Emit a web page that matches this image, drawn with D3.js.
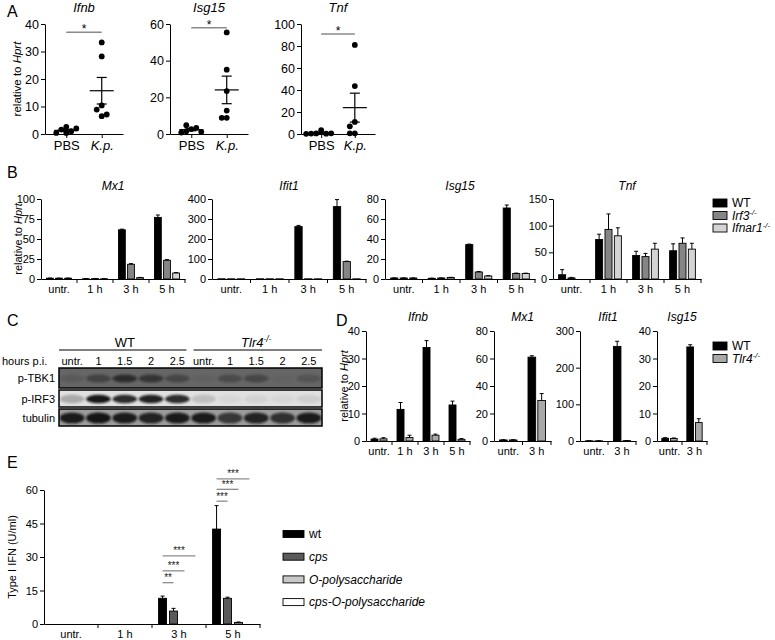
<!DOCTYPE html>
<html>
<head>
<meta charset="utf-8">
<script src="https://cdn.jsdelivr.net/npm/d3@7"></script>
<style>
  body { margin: 0; background: #fff; }
  svg { font-family: "Liberation Sans", Arial, sans-serif; }
</style>
</head>
<body>
<script>
// ---------- panel A ----------
const aGroups = ["PBS", "K.p."];
const aGenes = ["Ifnb", "Isg15", "Tnf"];
const aMax = [40, 60, 100];
const aTicks = [[0, 10, 20, 30, 40], [0, 20, 40, 60], [0, 20, 40, 60, 80, 100]];
const ifnbPBS = [2.6, 1.6, 1.0, 0.4, 0.4, 2.0];
const ifnbKp = [33.3, 28.2, 10.4, 8.9, 6.5, 7.1];
const isg15PBS = [2.7, 4.8, 1.5, 3.3, 0.8, 1.2];
const isg15Kp = [55.4, 35.1, 23.4, 12.8, 8.8, 8.8];
const tnfPBS = [3.4, 0.5, 0.3, 0.4, 0.6, 0.2];
const tnfKp = [81, 43.6, 11, 7, 0.6, 0.6];
const aSigLevel = [37, 58, 91];

// ---------- panel B ----------
const bGroups = ["untr.", "1 h", "3 h", "5 h"];
const bSeries = ["WT", "Irf3", "Ifnar1"];
const bGenes = ["Mx1", "Ifit1", "Isg15", "Tnf"];
const bMax = [100, 400, 80, 150];
const bTicks = [[0, 25, 50, 75, 100], [0, 100, 200, 300, 400], [0, 20, 40, 60, 80], [0, 50, 100, 150]];
const bMx1 = [[1.0, 0.3, 61.5, 77], [1.0, 0.5, 18.4, 23.4], [1.0, 0.3, 1.7, 7.5]];
const bMx1Err = [[0.2, 0.1, 0.8, 3], [0.1, 0.1, 0.8, 0.8], [0.1, 0.1, 0.3, 0.5]];
const bIfit1 = [[1, 1, 262, 362], [1, 1, 1, 87], [1, 1, 1, 1]];
const bIfit1Err = [[0, 0, 6, 35], [0, 0, 0, 2], [0, 0, 0, 0]];
const bIsg15 = [[1.0, 0.7, 34.4, 71], [1.0, 1.0, 7, 5.5], [1.0, 1.5, 3, 5.5]];
const bIsg15Err = [[0.1, 0.1, 0.5, 3], [0.1, 0.1, 0.5, 0.4], [0.1, 0.2, 0.3, 0.3]];
const bTnf = [[8, 74, 44, 53], [2, 93, 42, 67], [0, 81, 56, 56]];
const bTnfErr = [[9.5, 10, 8, 13], [1, 29, 6, 10], [0, 15, 11, 11]];

// ---------- panel C ----------
const cLanes = ["untr.", "1", "1.5", "2", "2.5", "untr.", "1", "1.5", "2", "2.5"];
const cRows = ["p-TBK1", "p-IRF3", "tubulin"];
const tbk1Band = [0.12, 0.4, 0.65, 0.55, 0.35, 0.05, 0.3, 0.35, 0.03, 0.2];
const irf3Band = [0.25, 0.95, 0.85, 0.9, 0.85, 0.15, 0.04, 0.06, 0.04, 0.08];
const tubulinBand = [0.9, 0.95, 0.9, 0.85, 0.9, 0.9, 0.7, 0.85, 0.75, 0.9];

// ---------- panel D ----------
const dSeries = ["WT", "Tlr4"];
const dGenes = ["Ifnb", "Mx1", "Ifit1", "Isg15"];
const dGroupsIfnb = ["untr.", "1 h", "3 h", "5 h"];
const dGroupsOther = ["untr.", "3 h"];
const dMax = [40, 80, 300, 40];
const dTicks = [[0, 10, 20, 30, 40], [0, 20, 40, 60, 80], [0, 100, 200, 300], [0, 10, 20, 30, 40]];
const dIfnb = [[0.7, 11.5, 34, 13.1], [0.8, 1.25, 2.1, 0.6]];
const dIfnbErr = [[0.3, 2.5, 2.5, 1.4], [0.4, 0.85, 0.4, 0.3]];
const dMx1 = [[0.75, 61], [0.75, 29.5]];
const dMx1Err = [[0.2, 1], [0.2, 5]];
const dIfit1 = [[0.5, 258], [0.5, 1]];
const dIfit1Err = [[0.2, 14], [0.2, 0.3]];
const dIsg15 = [[1, 34.2], [0.9, 6.7]];
const dIsg15Err = [[0.2, 0.8], [0.2, 1.4]];

// ---------- panel E ----------
const eGroups = ["untr.", "1 h", "3 h", "5 h"];
const eSeries = ["wt", "cps", "O-polysaccharide", "cps-O-polysaccharide"];
const eValues = [[0, 0, 11.5, 42.5], [0, 0, 5.8, 11.5], [0, 0, 0, 0.7], [0, 0, 0, 0]];
const eErr = [[0, 0, 1, 10.5], [0, 0, 1.2, 0.5], [0, 0, 0, 0.2], [0, 0, 0, 0]];
const eTicks = [0, 15, 30, 45, 60];
const eSig = [
  { group: "3 h", target: 1, level: 18.5, label: "**" },
  { group: "3 h", target: 2, level: 23.8, label: "***" },
  { group: "3 h", target: 3, level: 30.5, label: "***" },
  { group: "5 h", target: 1, level: 55, label: "***" },
  { group: "5 h", target: 2, level: 60.3, label: "***" },
  { group: "5 h", target: 3, level: 65, label: "***" }
];

const svg = d3.select("body").append("svg")
  .attr("width", 775)
  .attr("height", 640);

function letter(t, x, y) {
  svg.append("text").attr("x", x).attr("y", y).attr("font-size", 16).text(t);
}

// text with italic gene name and optional -/- superscript
function geneText(sel, name, ko, fs) {
  sel.append("tspan").attr("font-style", "italic").text(name);
  if (ko) sel.append("tspan").attr("font-style", "italic").attr("font-size", fs * 0.65)
    .attr("dy", -fs * 0.4).text("-/-");
}

function yLabel(x, y, fs) {
  const t = svg.append("text")
    .attr("transform", "translate(" + x + "," + y + ") rotate(-90)")
    .attr("text-anchor", "middle")
    .attr("font-size", fs);
  t.append("tspan").text("relative to ");
  t.append("tspan").attr("font-style", "italic").text("Hprt");
}

function styleAxis(a, fs) {
  a.attr("font-family", null).attr("font-size", fs);
  a.selectAll("path, line").attr("stroke", "#000").attr("stroke-width", 1);
}

// ---------- bar chart helper ----------
function drawBars(o) {
  const g = svg.append("g");
  const n = o.groups.length;
  const x = d3.scaleBand().domain(o.groups).range([o.x0, o.x0 + o.gw * n]);
  const xs = d3.scaleBand().domain(d3.range(o.values.length))
    .range([0, x.bandwidth()]).paddingInner(o.pi).paddingOuter(o.po);
  const y = d3.scaleLinear().domain([0, o.max]).range([o.bottom, o.top]);

  const recs = [];
  o.values.forEach((vals, si) => vals.forEach((v, gi) => {
    recs.push({ g: o.groups[gi], s: si, v: v, e: o.errs[si][gi] });
  }));

  g.selectAll(".bar").data(recs).enter().append("rect")
    .attr("x", d => x(d.g) + xs(d.s))
    .attr("y", d => y(d.v))
    .attr("width", xs.bandwidth())
    .attr("height", d => y(0) - y(d.v))
    .attr("fill", d => o.colors[d.s])
    .attr("stroke", "#000")
    .attr("stroke-width", 0.9);

  const eb = recs.filter(d => d.e > 0);
  const cx = d => x(d.g) + xs(d.s) + xs.bandwidth() / 2;
  g.selectAll(".err").data(eb).enter().append("line")
    .attr("x1", cx).attr("x2", cx)
    .attr("y1", d => y(d.v)).attr("y2", d => y(d.v + d.e))
    .attr("stroke", "#000").attr("stroke-width", 1);
  g.selectAll(".cap").data(eb).enter().append("line")
    .attr("x1", d => cx(d) - 2).attr("x2", d => cx(d) + 2)
    .attr("y1", d => y(d.v + d.e)).attr("y2", d => y(d.v + d.e))
    .attr("stroke", "#000").attr("stroke-width", 1);

  const ya = g.append("g").attr("transform", "translate(" + o.x0 + ",0)")
    .call(d3.axisLeft(y).tickValues(o.ticks).tickSize(4).tickSizeOuter(0).tickPadding(2));
  styleAxis(ya, o.fs);

  const xa = g.append("g").attr("transform", "translate(0," + o.bottom + ")")
    .call(d3.axisBottom(x).tickSize(0).tickSizeOuter(0).tickPadding(o.fs * 0.55));
  styleAxis(xa, o.fs);
  g.selectAll(".bnd").data(o.groups).enter().append("line")
    .attr("x1", d => x(d) + x.bandwidth()).attr("x2", d => x(d) + x.bandwidth())
    .attr("y1", o.bottom).attr("y2", o.bottom + 4)
    .attr("stroke", "#000").attr("stroke-width", 1);

  if (o.title) {
    g.append("text").attr("x", o.x0 + o.gw * n / 2).attr("y", o.titleY)
      .attr("text-anchor", "middle").attr("font-size", o.titleFs || o.fs + 1)
      .attr("font-style", "italic").text(o.title);
  }
  return { g: g, x: x, xs: xs, y: y };
}

function legend(x, y, step, w, h, labels, colors, kos, italics, fs) {
  labels.forEach((lab, i) => {
    svg.append("rect").attr("x", x).attr("y", y + i * step - h / 2)
      .attr("width", w).attr("height", h)
      .attr("fill", colors[i]).attr("stroke", "#000").attr("stroke-width", 0.9);
    const t = svg.append("text").attr("x", x + w + 5).attr("y", y + i * step + fs * 0.36)
      .attr("font-size", fs);
    if (italics[i]) geneText(t, lab, kos[i], fs);
    else t.text(lab);
  });
}

// ---------- panel A ----------
letter("A", 7, 17);
yLabel(21, 79, 11.5);
const aData = [[ifnbPBS, ifnbKp], [isg15PBS, isg15Kp], [tnfPBS, tnfKp]];
const aX0 = [45, 170, 301];
const aW = [78, 78, 74];
aGenes.forEach((gene, gi) => {
  const g = svg.append("g");
  const top = 24, bottom = 134;
  const x = d3.scalePoint().domain(aGroups).range([aX0[gi], aX0[gi] + aW[gi]]).padding(0.6);
  const y = d3.scaleLinear().domain([0, aMax[gi]]).range([bottom, top]);

  const ya = g.append("g").attr("transform", "translate(" + aX0[gi] + ",0)")
    .call(d3.axisLeft(y).tickValues(aTicks[gi]).tickSize(4).tickSizeOuter(0).tickPadding(2));
  styleAxis(ya, 12.5);
  const xa = g.append("g").attr("transform", "translate(0," + bottom + ")")
    .call(d3.axisBottom(x).tickSize(4).tickSizeOuter(0).tickPadding(3));
  styleAxis(xa, 13);
  xa.selectAll("text").attr("font-style", d => d === "K.p." ? "italic" : null);

  aData[gi].forEach((vals, ci) => {
    const cxm = x(aGroups[ci]);
    // simple dodge so that dots do not sit on top of each other
    const placed = [];
    const step = 5;
    vals.forEach(v => {
      const py = y(v);
      const cands = [0, -step, step, -2 * step, 2 * step, -3 * step, 3 * step];
      let off = cands.find(c => !placed.some(p => p.off === c && Math.abs(p.py - py) < 5));
      if (off === undefined) off = 0;
      placed.push({ off: off, py: py });
    });
    g.selectAll(null).data(placed).enter().append("circle")
      .attr("cx", d => cxm + d.off).attr("cy", d => d.py).attr("r", 2.9).attr("fill", "#000");

    const m = d3.mean(vals);
    const sem = d3.deviation(vals) / Math.sqrt(vals.length);
    g.append("line").attr("x1", cxm - 12).attr("x2", cxm + 12)
      .attr("y1", y(m)).attr("y2", y(m)).attr("stroke", "#000").attr("stroke-width", 1.2);
    g.append("line").attr("x1", cxm).attr("x2", cxm)
      .attr("y1", y(m - sem)).attr("y2", y(m + sem)).attr("stroke", "#000").attr("stroke-width", 1.2);
    [m - sem, m + sem].forEach(v => g.append("line")
      .attr("x1", cxm - 5).attr("x2", cxm + 5).attr("y1", y(v)).attr("y2", y(v))
      .attr("stroke", "#000").attr("stroke-width", 1.2));
  });

  const sy = y(aSigLevel[gi]);
  g.append("line").attr("x1", x("PBS")).attr("x2", x("K.p."))
    .attr("y1", sy).attr("y2", sy).attr("stroke", "#8a8a8a").attr("stroke-width", 1.5);
  g.append("text").attr("x", (x("PBS") + x("K.p.")) / 2).attr("y", sy + 1)
    .attr("text-anchor", "middle").attr("font-size", 12).text("*");

  g.append("text").attr("x", aX0[gi] + aW[gi] / 2).attr("y", 12)
    .attr("text-anchor", "middle").attr("font-size", 13).attr("font-style", "italic").text(gene);
});

// ---------- panel B ----------
letter("B", 7, 178);
yLabel(22, 239, 11);
const bData = [[bMx1, bMx1Err], [bIfit1, bIfit1Err], [bIsg15, bIsg15Err], [bTnf, bTnfErr]];
const bX0 = [41, 212, 385, 553];
const bGw = [36, 38.5, 37.5, 37];
const bColors = ["#000000", "#858585", "#d4d4d4"];
bGenes.forEach((gene, i) => {
  drawBars({
    x0: bX0[i], gw: bGw[i], top: 199, bottom: 279, groups: bGroups,
    values: bData[i][0], errs: bData[i][1], colors: bColors,
    max: bMax[i], ticks: bTicks[i], pi: 0.25, po: 0.6,
    title: gene, titleY: 190, fs: 11, titleFs: 12
  });
});
legend(713, 203, 12.5, 14, 8, bSeries, bColors, [false, true, true], [false, true, true], 12);

// ---------- panel C ----------
letter("C", 7, 326);
const lane = d3.scaleBand().domain(d3.range(cLanes.length)).range([59, 322]);
const rowBox = [[368, 388], [390, 407], [409, 426]];
const rowBg = ["#666666", "#e0e0e0", "#9c9c9c"];
const rowRy = [0.2, 0.25, 0.33];
const bandData = [tbk1Band, irf3Band, tubulinBand];
const defs = svg.append("defs");
defs.append("filter").attr("id", "blur").attr("x", "-50%").attr("y", "-100%")
  .attr("width", "200%").attr("height", "300%")
  .append("feGaussianBlur").attr("stdDeviation", 1.3);

svg.append("text").attr("x", (lane(0) + lane(4) + lane.bandwidth()) / 2).attr("y", 347)
  .attr("text-anchor", "middle").attr("font-size", 13).text("WT");
const tl = svg.append("text").attr("x", (lane(5) + lane(9) + lane.bandwidth()) / 2).attr("y", 347)
  .attr("text-anchor", "middle").attr("font-size", 13);
geneText(tl, "Tlr4", true, 13);
svg.append("line").attr("x1", lane(0)).attr("x2", lane(4) + lane.bandwidth() - 4)
  .attr("y1", 350).attr("y2", 350).attr("stroke", "#000").attr("stroke-width", 1);
svg.append("line").attr("x1", lane(5) + 3).attr("x2", lane(9) + lane.bandwidth())
  .attr("y1", 350).attr("y2", 350).attr("stroke", "#000").attr("stroke-width", 1);
svg.append("text").attr("x", 2).attr("y", 365).attr("font-size", 11).text("hours p.i.");
svg.selectAll(".lane").data(cLanes).enter().append("text")
  .attr("x", (d, i) => lane(i) + lane.bandwidth() / 2).attr("y", 365)
  .attr("text-anchor", "middle").attr("font-size", 11).text(d => d);

cRows.forEach((row, r) => {
  const [y1, y2] = rowBox[r];
  const cp = defs.append("clipPath").attr("id", "row" + r);
  cp.append("rect").attr("x", lane.range()[0]).attr("y", y1)
    .attr("width", lane.range()[1] - lane.range()[0]).attr("height", y2 - y1);
  svg.append("rect").attr("x", lane.range()[0]).attr("y", y1)
    .attr("width", lane.range()[1] - lane.range()[0]).attr("height", y2 - y1)
    .attr("fill", rowBg[r]);
  svg.append("g").attr("clip-path", "url(#row" + r + ")")
    .selectAll("ellipse").data(bandData[r]).enter().append("ellipse")
    .attr("cx", (d, i) => lane(i) + lane.bandwidth() / 2)
    .attr("cy", (y1 + y2) / 2 + 0.5)
    .attr("rx", lane.bandwidth() * 0.47)
    .attr("ry", (y2 - y1) * rowRy[r])
    .attr("fill", "#111")
    .attr("opacity", d => d)
    .attr("filter", "url(#blur)");
  svg.append("rect").attr("x", lane.range()[0]).attr("y", y1)
    .attr("width", lane.range()[1] - lane.range()[0]).attr("height", y2 - y1)
    .attr("fill", "none").attr("stroke", "#000").attr("stroke-width", 1.5);
  svg.append("text").attr("x", 55).attr("y", (y1 + y2) / 2 + 4)
    .attr("text-anchor", "end").attr("font-size", 11).text(row);
});

// ---------- panel D ----------
letter("D", 336, 326);
yLabel(348, 386, 11);
const dData = [[dIfnb, dIfnbErr], [dMx1, dMx1Err], [dIfit1, dIfit1Err], [dIsg15, dIsg15Err]];
const dX0 = [366, 494, 580, 657];
const dGw = [26, 28.5, 28, 25];
const dColors = ["#000000", "#a9a9a9"];
dGenes.forEach((gene, i) => {
  drawBars({
    x0: dX0[i], gw: dGw[i], top: 331, bottom: 441,
    groups: i === 0 ? dGroupsIfnb : dGroupsOther,
    values: dData[i][0], errs: dData[i][1], colors: dColors,
    max: dMax[i], ticks: dTicks[i], pi: 0.22, po: 0.56,
    title: gene, titleY: 321, fs: 11, titleFs: 12
  });
});
legend(713, 346, 12.5, 14, 8, dSeries, dColors, [false, true], [false, true], 12);

// ---------- panel E ----------
letter("E", 7, 468);
svg.append("text")
  .attr("transform", "translate(16,557) rotate(-90)")
  .attr("text-anchor", "middle").attr("font-size", 11).text("Type I IFN (U/ml)");
const eColors = ["#000000", "#5a5a5a", "#c8c8c8", "#ffffff"];
const eChart = drawBars({
  x0: 44, gw: 54, top: 490, bottom: 624, groups: eGroups,
  values: eValues, errs: eErr, colors: eColors,
  max: 60, ticks: eTicks, pi: 0.27, po: 0.6, fs: 11
});
const barC = (grp, s) => eChart.x(grp) + eChart.xs(s) + eChart.xs.bandwidth() / 2;
eSig.forEach(s => {
  const x1 = barC(s.group, 0), x2 = barC(s.group, s.target), yy = eChart.y(s.level);
  svg.append("line").attr("x1", x1).attr("x2", x2).attr("y1", yy).attr("y2", yy)
    .attr("stroke", "#8c8c8c").attr("stroke-width", 1.3);
  svg.append("text").attr("x", (x1 + x2) / 2).attr("y", yy - 1.5)
    .attr("text-anchor", "middle").attr("font-size", 10).attr("fill", "#222").text(s.label);
});
legend(283, 534, 22.7, 21, 7, eSeries, eColors, [false, false, false, false], [false, true, true, true], 12);
d3.selectAll("text").filter(function () { return this.textContent === "wt"; }).attr("font-style", null);
</script>
</body>
</html>
